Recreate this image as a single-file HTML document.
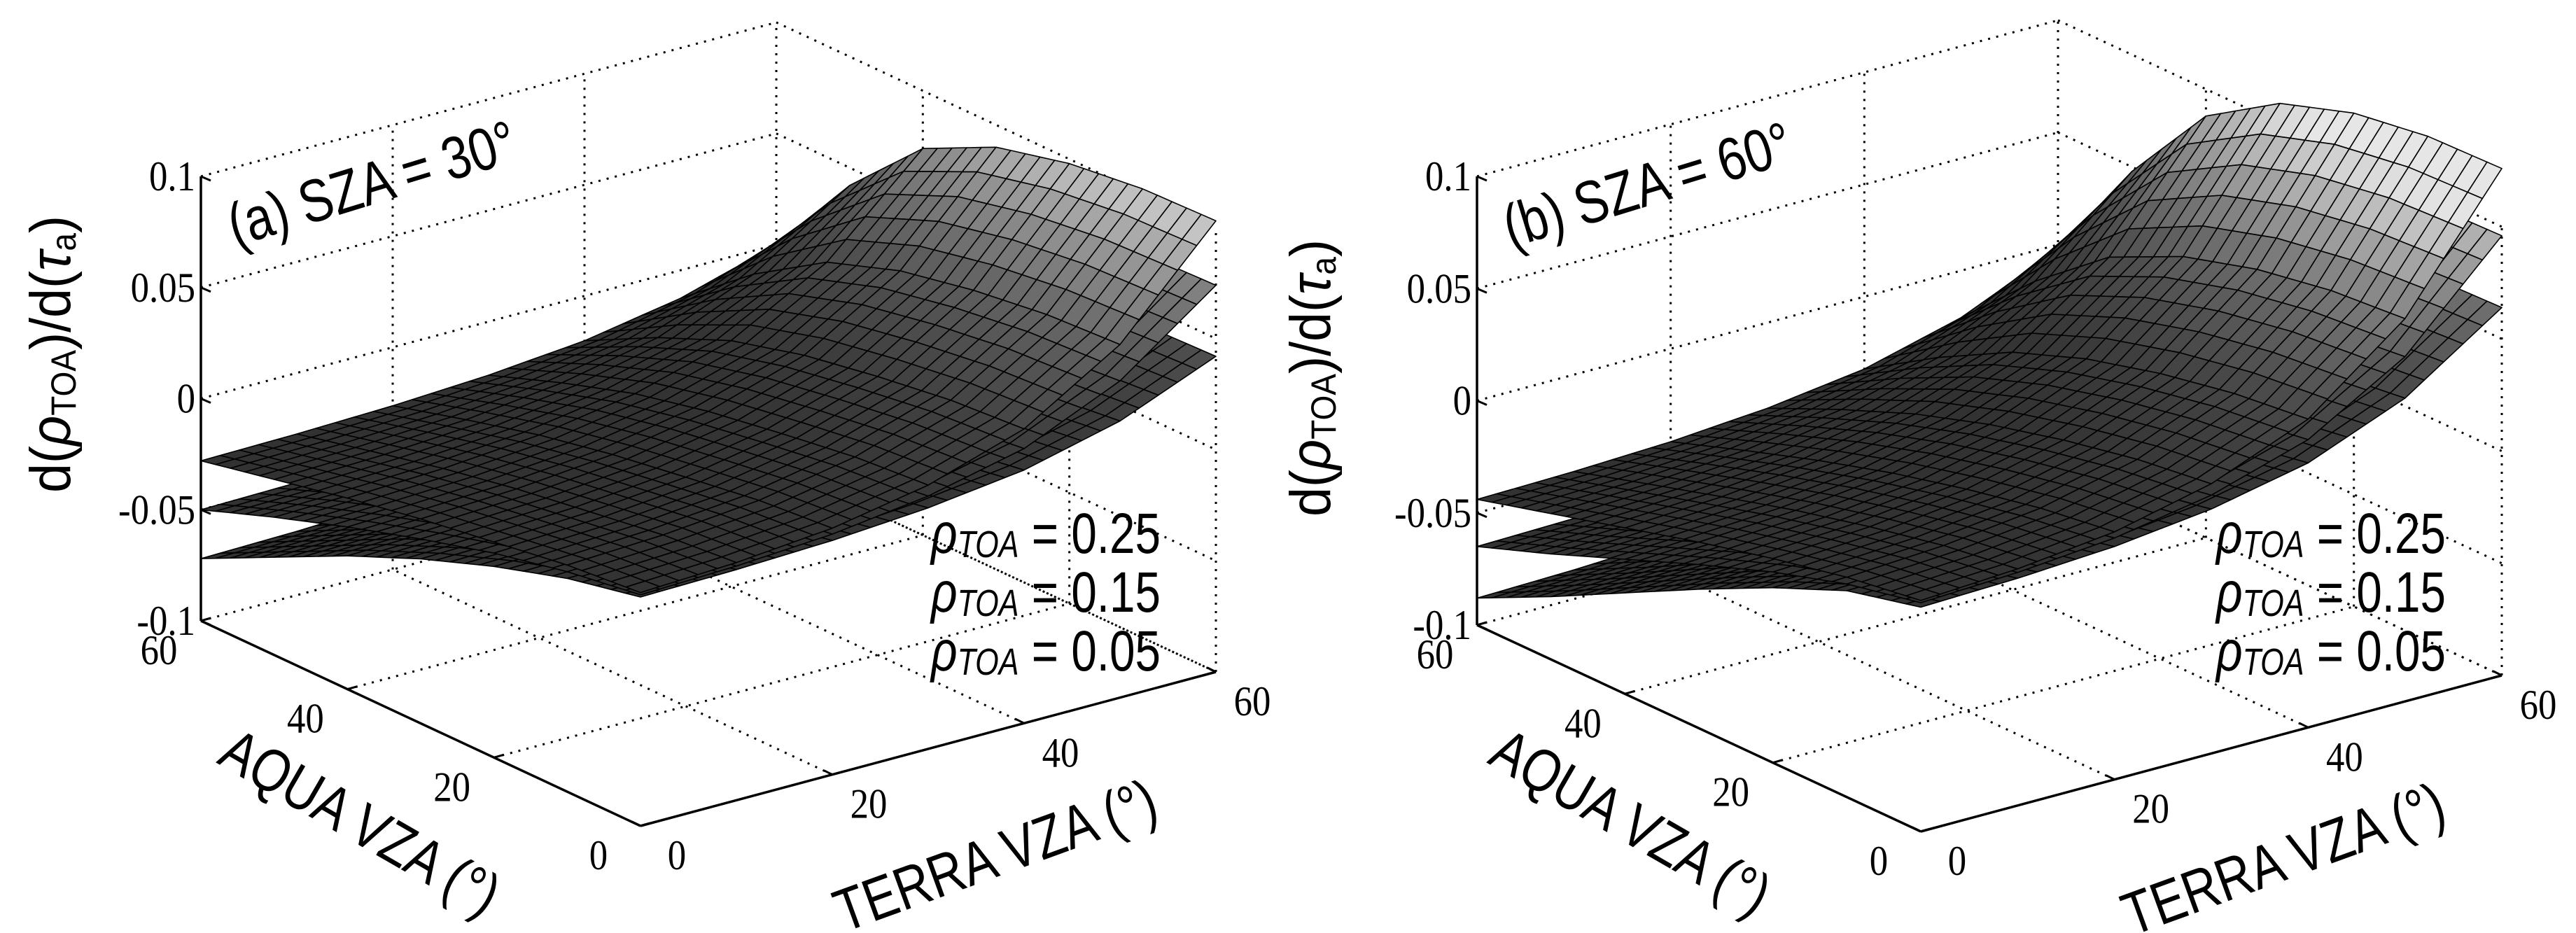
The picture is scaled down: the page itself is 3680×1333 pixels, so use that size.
<!DOCTYPE html>
<html><head><meta charset="utf-8">
<style>
html,body{margin:0;padding:0;background:#fff;}
svg{display:block;}
</style></head>
<body>
<svg id="fig" width="3680" height="1333" viewBox="0 0 3680 1333" xmlns="http://www.w3.org/2000/svg">
<g id="panelA"></g>
<g id="panelB"></g>
</svg>
<script>
// ---- data ----
const ayNodes = [0,10,20,30,40,50,60];
const txWeight = [0,0.02,0.06,0.14,0.28,0.55,1];
const zTicks = [-0.1,-0.05,0,0.05,0.1];
const zTickLabels = ["-0.1","-0.05","0","0.05","0.1"];
const vzaTicks = [0,20,40,60];
const vzaTickLabels = ["0","20","40","60"];
const legendLabels = ["0.25","0.15","0.05"];
// panel a: z at TERRA=0 / TERRA=60 along AQUA nodes
const aTopTx0 = [0.005,0.002,-0.003,-0.008,-0.014,-0.021,-0.028];
const aTopTx60 = [0.103,0.102,0.098,0.090,0.074,0.042,0.000];
const aMidTx0 = [0.004,-0.001,-0.008,-0.017,-0.027,-0.038,-0.050];
const aMidTx60 = [0.074,0.073,0.069,0.061,0.046,0.018,-0.018];
const aBotTx0 = [0.003,-0.004,-0.014,-0.026,-0.040,-0.056,-0.072];
const aBotTx60 = [0.042,0.041,0.037,0.029,0.016,-0.006,-0.035];
// panel b
const bTopTx0 = [0.003,-0.002,-0.009,-0.017,-0.026,-0.035,-0.044];
const bTopTx60 = [0.126,0.125,0.120,0.109,0.088,0.048,-0.002];
const bMidTx0 = [0.002,-0.005,-0.015,-0.027,-0.040,-0.053,-0.065];
const bMidTx60 = [0.096,0.095,0.090,0.080,0.061,0.026,-0.020];
const bBotTx0 = [0.000,-0.008,-0.022,-0.038,-0.055,-0.072,-0.088];
const bBotTx60 = [0.064,0.063,0.058,0.049,0.032,0.003,-0.040];

const NS = "http://www.w3.org/2000/svg";
function mk(tag, parent){ const e=document.createElementNS(NS,tag); parent.appendChild(e); return e; }
function interp(nodes, vals, x){
  for(let i=0;i<nodes.length-1;i++){ if(x<=nodes[i+1]){ const t=(x-nodes[i])/(nodes[i+1]-nodes[i]); return vals[i]+(vals[i+1]-vals[i])*t; } }
  return vals[vals.length-1];
}
function zAt(s, tx, ay){
  const z0=interp(ayNodes,s.tx0,ay), z1=interp(ayNodes,s.tx60,ay);
  const w=interp(ayNodes,txWeight,tx);
  return z0+(z1-z0)*w;
}
function grayOf(z){
  let t=(z+0.005)/0.115; if(t<0)t=0; if(t>1)t=1;
  const g=Math.round(50+180*Math.pow(t,2));
  return "rgb("+g+","+g+","+g+")";
}

function drawPanel(g, cfg){
  const F=cfg.F, L=cfg.L, R=cfg.R, H=cfg.H;
  function P(tx,ay,z){
    return [F[0]+(R[0]-F[0])*tx/60+(L[0]-F[0])*ay/60,
            F[1]+(R[1]-F[1])*tx/60+(L[1]-F[1])*ay/60-(z+0.1)/0.2*H];
  }
  function line(p,q,dotted,name,w){
    const l=mk("line",g);
    l.setAttribute("x1",p[0]);l.setAttribute("y1",p[1]);l.setAttribute("x2",q[0]);l.setAttribute("y2",q[1]);
    l.setAttribute("stroke","#000");l.setAttribute("stroke-width",w||3);
    if(dotted) l.setAttribute("stroke-dasharray","3 9");
    
    
  }
  function tickText(x,y,s,anchor,name){
    const t=mk("text",g);
    t.setAttribute("font-family","'Liberation Serif', serif");
    t.setAttribute("font-size","60");
    t.setAttribute("text-anchor",anchor);
    t.setAttribute("transform","translate("+x+","+y+") scale(0.88,1)");
    t.textContent=s;
    
    
  }
  zTicks.forEach(z=>{
    line(P(0,60,z),P(60,60,z),true,"grid-line-left-wall");
    line(P(60,60,z),P(60,0,z),true,"grid-line-right-wall");
  });
  [20,40,60].forEach(t=>line(P(t,60,-0.1),P(t,60,0.1),true,"grid-line-left-wall-vertical"));
  [0,20,40].forEach(a=>line(P(60,a,-0.1),P(60,a,0.1),true,"grid-line-right-wall-vertical"));
  [20,40,60].forEach(t=>line(P(t,0,-0.1),P(t,60,-0.1),true,"grid-line-floor"));
  [20,40].forEach(a=>line(P(0,a,-0.1),P(60,a,-0.1),true,"grid-line-floor"));
  line(P(0,60,-0.1),P(0,60,0.1),false,"z-axis",3.5);
  line(P(0,60,-0.1),P(0,0,-0.1),false,"aqua-axis",3.5);
  line(P(0,0,-0.1),P(60,0,-0.1),false,"terra-axis",3.5);
  zTicks.forEach((z,i)=>{
    const p=P(0,60,z);
    line(p,[p[0]+14,p[1]+6],false,"z-tick",3);
    tickText(p[0]-8,p[1]+20,zTickLabels[i],"end","z-tick-label");
  });
  vzaTicks.forEach((v,i)=>{
    const p=P(0,v,-0.1);
    line(p,[p[0]+14,p[1]-4],false,"aqua-tick",3);
    tickText(p[0]-60,p[1]+62,vzaTickLabels[i],"middle","aqua-tick-label");
    const q=P(v,0,-0.1);
    line(q,[q[0]-12,q[1]-6],false,"terra-tick",3);
    tickText(q[0]+52,q[1]+62,vzaTickLabels[i],"middle","terra-tick-label");
  });
  const N=30;
  cfg.surfaces.forEach((s)=>{
    const sg=mk("g",g);
    
    
    const cells=[];
    for(let i=0;i<N;i++)for(let j=0;j<N;j++)cells.push([i,j]);
    cells.sort((a,b)=>(b[0]+b[1])-(a[0]+a[1]));
    cells.forEach(([i,j])=>{
      const t0=i*60/N,t1=(i+1)*60/N,a0=j*60/N,a1=(j+1)*60/N;
      const z00=zAt(s,t0,a0),z10=zAt(s,t1,a0),z11=zAt(s,t1,a1),z01=zAt(s,t0,a1);
      const pts=[P(t0,a0,z00),P(t1,a0,z10),P(t1,a1,z11),P(t0,a1,z01)];
      const pg=mk("polygon",sg);
      pg.setAttribute("points",pts.map(p=>p[0].toFixed(1)+","+p[1].toFixed(1)).join(" "));
      pg.setAttribute("fill",grayOf((z00+z10+z11+z01)/4));
      pg.setAttribute("stroke","#000");pg.setAttribute("stroke-width","1.6");pg.setAttribute("stroke-linejoin","round");
      
      
    });
  });
  function txt(x,y,size,rot,content,name,sx){
    const t=mk("text",g);
    t.setAttribute("font-family","'Liberation Sans', sans-serif");
    t.setAttribute("font-size",size); t.setAttribute("text-anchor","middle");
    t.setAttribute("transform","translate("+x+","+y+") rotate("+rot+") scale("+(sx||0.82)+",1)");
    t.textContent=content;
    
    
    return t;
  }
  txt(cfg.title[0],cfg.title[1],86,-17,cfg.titleText,"panel-title");
  const yl=mk("text",g);
  yl.setAttribute("font-family","'Liberation Sans', sans-serif");
  yl.setAttribute("font-size",82); yl.setAttribute("text-anchor","middle");
  yl.setAttribute("transform","translate("+cfg.ylab[0]+","+cfg.ylab[1]+") rotate(-90) scale(0.92,1)");
  yl.innerHTML='d(<tspan font-style="italic">ρ</tspan><tspan font-size="50" dy="8">TOA</tspan><tspan dy="-8">)/d(</tspan><tspan font-style="italic">τ</tspan><tspan font-size="50" dy="8">a</tspan><tspan dy="-8">)</tspan>';
  
  
  txt(cfg.aqua[0],cfg.aqua[1],86,30,"AQUA VZA (°)","aqua-axis-title");
  txt(cfg.terra[0],cfg.terra[1],86,-20,"TERRA VZA (°)","terra-axis-title");
  legendLabels.forEach((v,i)=>{
    const t=mk("text",g);
    t.setAttribute("font-family","'Liberation Sans', sans-serif");
    t.setAttribute("font-size",82);
    const x=cfg.leg[0], y=cfg.leg[1]+i*84;
    t.setAttribute("transform","translate("+x+","+y+") scale(0.8,1)");
    t.innerHTML='<tspan font-style="italic">ρ</tspan><tspan font-size="54" font-style="italic" dy="6">TOA</tspan><tspan dy="-6"> = '+v+'</tspan>';
    
    
  });
}

drawPanel(document.getElementById("panelA"),{
  F:[915,1180],L:[287,887],R:[1737,960],H:635,
  surfaces:[{name:"surface-rho-0.05",tx0:aBotTx0,tx60:aBotTx60},{name:"surface-rho-0.15",tx0:aMidTx0,tx60:aMidTx60},{name:"surface-rho-0.25",tx0:aTopTx0,tx60:aTopTx60}],
  title:[540,290],titleText:"(a) SZA = 30°",ylab:[100,506],aqua:[500,1200],terra:[1432,1250],leg:[1330,790]
});
drawPanel(document.getElementById("panelB"),{
  F:[2744,1188],L:[2110,893],R:[3574,965],H:641,
  surfaces:[{name:"surface-rho-0.05",tx0:bBotTx0,tx60:bBotTx60},{name:"surface-rho-0.15",tx0:bMidTx0,tx60:bMidTx60},{name:"surface-rho-0.25",tx0:bTopTx0,tx60:bTopTx60}],
  title:[2362,292],titleText:"(b) SZA = 60°",ylab:[1900,540],aqua:[2315,1200],terra:[3272,1255],leg:[3166,790]
});
</script>
</body></html>
